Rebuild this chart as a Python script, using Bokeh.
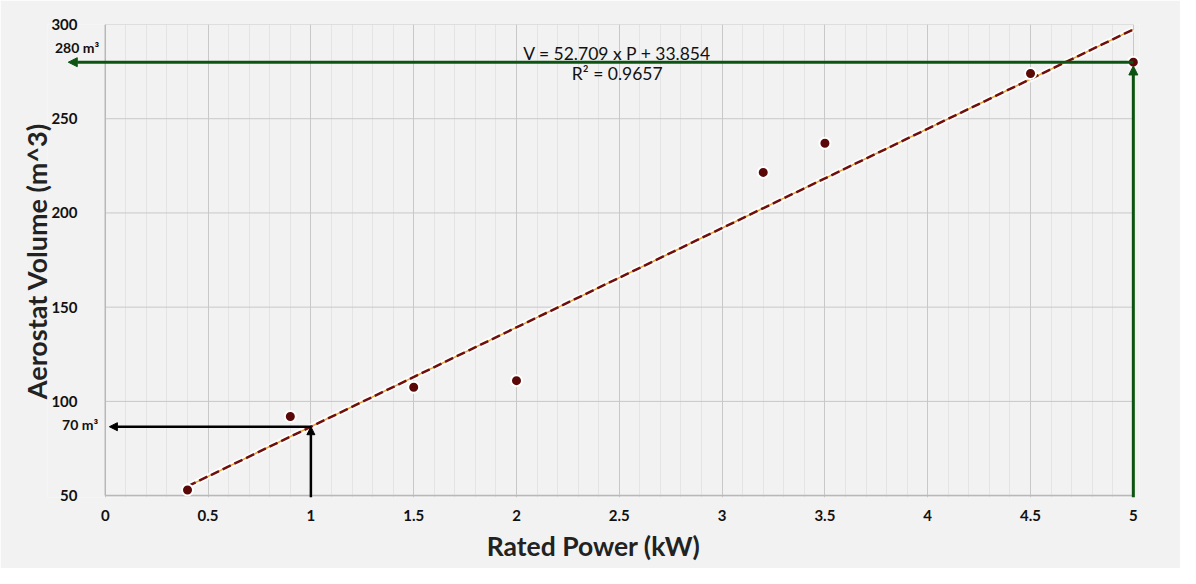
from bokeh.plotting import figure
from bokeh.models import Arrow, NormalHead, Label, FixedTicker, ColumnDataSource
from bokeh.embed import file_html
from bokeh.resources import INLINE

# Data
power_kw = [0.4, 0.9, 1.5, 2.0, 3.2, 3.5, 4.5, 5.0]
volume_m3 = [53, 92, 107.5, 111, 221.5, 237, 274, 280]
slope = 52.709
intercept = 33.854
r_squared = 0.9657
trend_x = [0.4, 5.0]
trend_y = [slope * x + intercept for x in trend_x]
x_ticks = [0, 0.5, 1, 1.5, 2, 2.5, 3, 3.5, 4, 4.5, 5]
y_ticks = [50, 100, 150, 200, 250, 300]
target_small_p = 1.0
target_small_v = slope * target_small_p + intercept
target_large_p = 5.0
target_large_v = 280

BG = "#f2f2f2"
FONT = "Lato"
GRID = "#c8c8c8"

p = figure(width=1180, height=568, x_range=(-0.281, 5.03), y_range=(49, 300),
           output_backend="svg", toolbar_location=None,
           min_border_left=47, min_border_right=41, min_border_top=24,
           min_border_bottom=71)
p.background_fill_color = BG
p.border_fill_color = BG
p.outline_line_color = None

p.xaxis.ticker = FixedTicker(ticks=x_ticks, minor_ticks=[round(i * 0.1, 1) for i in range(51)])
p.yaxis.ticker = FixedTicker(ticks=y_ticks)
for ax in (p.xaxis, p.yaxis):
    ax.axis_line_color = None
    ax.major_tick_line_color = None
    ax.minor_tick_line_color = None
    ax.major_label_text_font = FONT
    ax.major_label_text_font_style = "bold"
    ax.major_label_text_font_size = "15px"
    ax.major_label_text_color = "#111111"
    ax.axis_label_text_font = FONT
    ax.axis_label_text_font_style = "bold"
    ax.axis_label_text_color = "#222222"
p.xaxis.axis_label_text_font_size = "26.5px"
p.yaxis.axis_label_text_font_size = "27px"
p.xaxis.major_label_standoff = 6
p.yaxis.major_label_standoff = -36
p.xaxis.axis_label = "Rated Power (kW)"
p.yaxis.axis_label = "Aerostat Volume (m^3)"
p.xaxis.axis_label_standoff = 6
p.yaxis.axis_label_standoff = -5

p.xgrid.grid_line_color = GRID
p.ygrid.grid_line_color = None
p.xgrid.minor_grid_line_color = "#e4e4e4"

# horizontal grid lines limited to the data area, and the axis lines
n = len(y_ticks)
p.segment(x0=[x_ticks[0]] * n, y0=y_ticks, x1=[x_ticks[-1]] * n, y1=y_ticks,
          line_color=GRID, line_width=1)
p.segment(x0=[x_ticks[0], x_ticks[0]], y0=[y_ticks[0], y_ticks[0]],
          x1=[x_ticks[-1], x_ticks[0]], y1=[y_ticks[0], y_ticks[-1]],
          line_color="#b8b8b8", line_width=1.5)

# trend line
p.line(trend_x, trend_y, line_color="white", line_width=6, line_alpha=0.8)
p.line(trend_x, trend_y, line_color="#e8a030", line_width=1.5)
p.line(trend_x, trend_y, line_color="#6e0f0f", line_width=2.5, line_dash="9 4")

# arrows
green = "#0d5412"
p.add_layout(Arrow(end=NormalHead(size=9, fill_color=green, line_color=green),
                   x_start=target_large_p, y_start=target_large_v,
                   x_end=-0.18, y_end=target_large_v,
                   line_color=green, line_width=3))
p.add_layout(Arrow(end=NormalHead(size=9, fill_color=green, line_color=green),
                   x_start=target_large_p, y_start=49,
                   x_end=target_large_p, y_end=target_large_v - 2,
                   line_color=green, line_width=3))
p.add_layout(Arrow(end=NormalHead(size=8, fill_color="black", line_color="black"),
                   x_start=target_small_p, y_start=target_small_v,
                   x_end=0.02, y_end=target_small_v,
                   line_color="black", line_width=2.5))
p.add_layout(Arrow(end=NormalHead(size=8, fill_color="black", line_color="black"),
                   x_start=target_small_p, y_start=49,
                   x_end=target_small_p, y_end=target_small_v,
                   line_color="black", line_width=2.5))

# points
src = ColumnDataSource(dict(x=power_kw, y=volume_m3))
p.scatter("x", "y", source=src, size=11, fill_color="#5a0808",
          line_color="white", line_width=2)

# labels
p.add_layout(Label(x=-0.03, y=288, text="280 m³", text_align="right",
                   text_baseline="middle", text_font=FONT, text_font_style="bold",
                   text_font_size="14px", text_color="#111111"))
p.add_layout(Label(x=-0.035, y=87.5, text="70 m³", text_align="right",
                   text_baseline="middle", text_font=FONT, text_font_style="bold",
                   text_font_size="14px", text_color="#111111"))
p.add_layout(Label(x=2.49, y=284.5, text=f"V = {slope} x P + {intercept}",
                   text_align="center", text_baseline="middle", text_font=FONT,
                   text_font_size="17.5px", text_color="#111111"))
p.add_layout(Label(x=2.49, y=274, text=f"R² = {r_squared}",
                   text_align="center", text_baseline="middle", text_font=FONT,
                   text_font_size="17.5px", text_color="#111111"))

open("out.html", "w").write(file_html(p, INLINE))
